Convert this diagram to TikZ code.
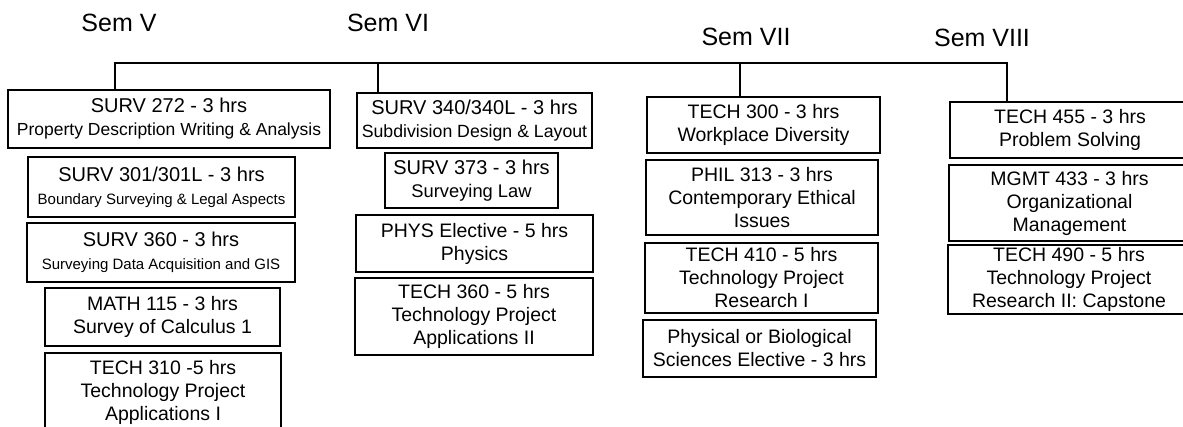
\documentclass[tikz,border=0pt]{standalone}
\usepackage{fontspec}
\setmainfont{Liberation Sans}
\begin{document}
\begin{tikzpicture}[x=1pt,y=-1pt,
  box/.style={draw=black, line width=1.3pt, rectangle, inner sep=0pt, align=center,
              font=\fontsize{19.5}{23}\selectfont},
  sem/.style={font=\fontsize{25}{28}\selectfont, inner sep=0pt},
  link/.style={line width=2.4pt}]
\useasboundingbox (0,0) rectangle (1183,426);
\clip (0,0) rectangle (1183,426);
% semester titles
\node[sem] (semV)    at (119,23) {Sem V};
\node[sem] (semVI)   at (388,23) {Sem VI};
\node[sem] (semVII)  at (746,37) {Sem VII};
\node[sem] (semVIII) at (982,38) {Sem VIII};
% Sem V
\node[box, minimum width=322pt, minimum height=58pt] (s272) at (169,119)
  {\fontsize{20}{22}\selectfont SURV 272 - 3 hrs\\\fontsize{17.5}{22}\selectfont Property Description Writing \& Analysis};
\node[box, minimum width=267pt, minimum height=60pt] (s301) at (161.5,187)
  {\fontsize{20}{22}\selectfont SURV 301/301L - 3 hrs\\\fontsize{15}{22}\selectfont Boundary Surveying \& Legal Aspects};
\node[box, minimum width=268pt, minimum height=59pt] (s360) at (161,252.5)
  {\fontsize{20}{22}\selectfont SURV 360 - 3 hrs\\\fontsize{15}{22}\selectfont Surveying Data Acquisition and GIS};
\node[box, minimum width=235pt, minimum height=58pt] (m115) at (162.5,317)
  {MATH 115 - 3 hrs\\Survey of Calculus 1};
\node[box, minimum width=236pt, minimum height=79pt] (t310) at (163,392.5)
  {TECH 310 -5 hrs\\Technology Project\\Applications I};
% Sem VI
\node[box, minimum width=235pt, minimum height=55pt] (s340) at (474.5,120.5)
  {\fontsize{20}{22}\selectfont SURV 340/340L - 3 hrs\\\fontsize{17.7}{22}\selectfont Subdivision Design \& Layout};
\node[box, minimum width=173pt, minimum height=55pt] (s373) at (471.5,180.5)
  {\fontsize{20}{22}\selectfont SURV 373 - 3 hrs\\\fontsize{18.3}{22}\selectfont Surveying Law};
\node[box, minimum width=237pt, minimum height=57pt] (phys) at (474.5,243.5)
  {PHYS Elective - 5 hrs\\Physics};
\node[box, minimum width=238pt, minimum height=77pt] (t360) at (474,316.5)
  {TECH 360 - 5 hrs\\Technology Project\\Applications II};
% Sem VII
\node[box, minimum width=233pt, minimum height=56pt] (t300) at (763.5,125)
  {TECH 300 - 3 hrs\\Workplace Diversity};
\node[box, minimum width=232pt, minimum height=75pt] (p313) at (762,197.5)
  {PHIL 313 - 3 hrs\\Contemporary Ethical\\Issues};
\node[box, minimum width=233pt, minimum height=70pt] (t410) at (761.5,278)
  {TECH 410 - 5 hrs\\Technology Project\\Research I};
\node[box, minimum width=233pt, minimum height=57pt] (phb) at (759.5,348.5)
  {Physical or Biological\\Sciences Elective - 3 hrs};
% Sem VIII
\node[box, minimum width=240pt, minimum height=56pt] (t455) at (1070,130)
  {TECH 455 - 3 hrs\\Problem Solving};
\node[box, minimum width=241pt, minimum height=76pt] (mg433) at (1069.5,203)
  {MGMT 433 - 3 hrs\\Organizational\\Management};
\node[box, minimum width=242pt, minimum height=69pt] (t490) at (1069,279.5)
  {TECH 490 - 5 hrs\\Technology Project\\Research II: Capstone};
% connector tree
\coordinate (j1) at (115,63);
\coordinate (j2) at (378,63);
\coordinate (j3) at (740,63);
\coordinate (j4) at (1007,63);
\draw[link] (s272.north -| j1) -- (j1) -- (j4) -- (t455.north -| j4);
\draw[link] (j2) -- (s340.north -| j2);
\draw[link] (j3) -- (t300.north -| j3);
\end{tikzpicture}
\end{document}
